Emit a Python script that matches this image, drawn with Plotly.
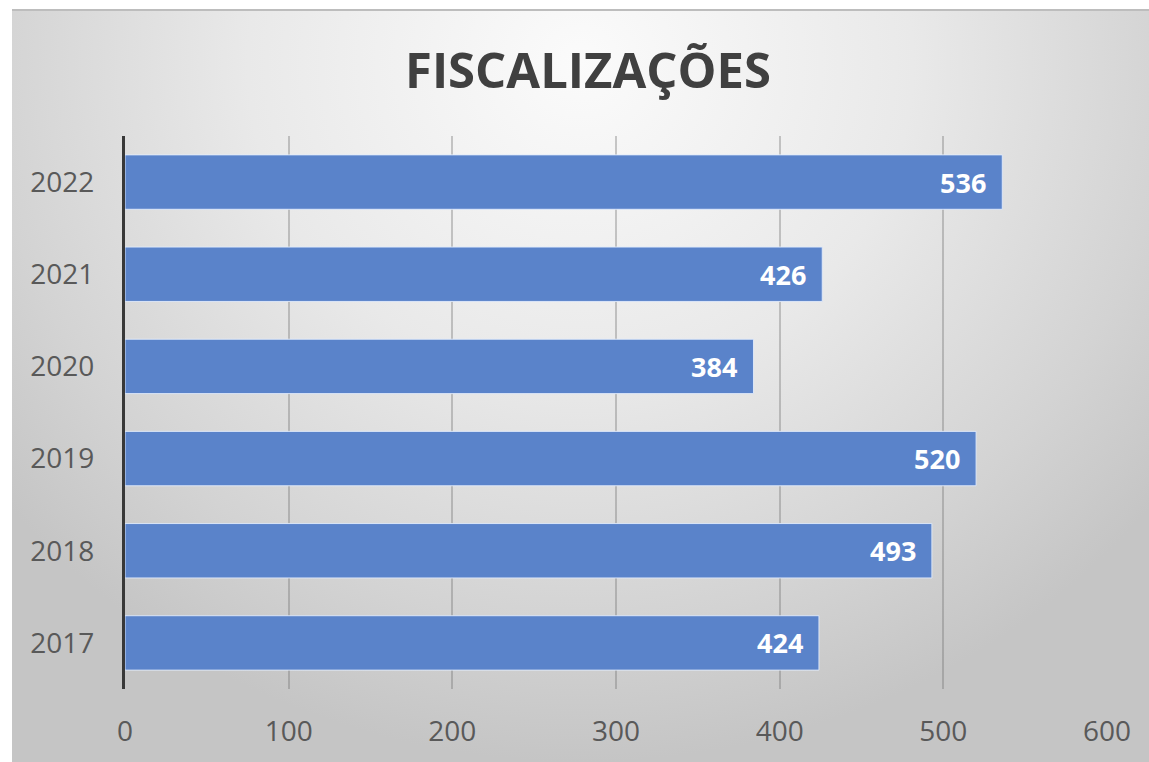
import plotly.graph_objects as go

# ---- data ----
years = ["2017", "2018", "2019", "2020", "2021", "2022"]
fiscalizacoes = [424, 493, 520, 384, 426, 536]
x_ticks = [0, 100, 200, 300, 400, 500, 600]
title_text = "FISCALIZAÇÕES"

W, H = 1149, 762
FONT = "Open Sans"

fig = go.Figure()

# background radial gradient (decorative) on its own hidden subplot
fig.add_trace(go.Scatter(
    x=[-0.15, 1.15, 1.15, -0.15, -0.15], y=[0, 0, 1.86, 1.86, 0],
    fill="toself", mode="lines", line=dict(width=0),
    fillgradient=dict(type="radial",
                      colorscale=[[0, "#fbfbfb"], [0.45, "#e9e9e9"],
                                  [0.8, "#d3d3d3"], [1, "#c5c5c5"]]),
    hoverinfo="skip", showlegend=False, xaxis="x", yaxis="y"))

fig.add_trace(go.Bar(
    x=fiscalizacoes, y=years, orientation="h", width=0.59,
    marker=dict(color="#5a83ca", line=dict(color="rgba(225,235,252,0.9)", width=1)),
    hoverinfo="x+y", showlegend=False, xaxis="x2", yaxis="y2"))

annotations = []
for v, yr in zip(fiscalizacoes, years):
    annotations.append(dict(
        x=v, y=years.index(yr), xref="x2", yref="y2", xanchor="right", yanchor="middle",
        xshift=-14, text=str(v), showarrow=False,
        font=dict(family=FONT, size=27, color="white", weight="bold")))

annotations.append(dict(
    x=588 / W, y=1 - 69 / H, xref="paper", yref="paper",
    xanchor="center", yanchor="middle", text=title_text, showarrow=False,
    font=dict(family=FONT, size=49, color="#404040", weight="bold")))

fig.update_layout(
    width=W, height=H, autosize=False,
    margin=dict(l=0, r=0, t=0, b=0, pad=0, autoexpand=False),
    paper_bgcolor="white", plot_bgcolor="rgba(0,0,0,0)",
    xaxis=dict(domain=[12 / W, 1], range=[0, 1], visible=False, fixedrange=True,
               automargin=False),
    yaxis=dict(domain=[0, 752 / H], range=[0, 1], visible=False, fixedrange=True,
               automargin=False),
    xaxis2=dict(domain=[125 / W, 1107 / W], range=[0, 600], anchor="y2",
                tickvals=x_ticks, showgrid=True, gridcolor="rgba(110,110,110,0.36)",
                gridwidth=1.5, zeroline=False, showline=False, automargin=False,
                ticks="", ticklabelstandoff=23,
                tickfont=dict(family=FONT, size=28, color="#595959")),
    yaxis2=dict(domain=[73 / H, 626 / H], anchor="x2", type="category",
                categoryorder="array", categoryarray=years,
                range=[-0.5, len(years) - 0.5], autorange=False, automargin=False,
                showline=True, linecolor="#383838", linewidth=3,
                showgrid=False, ticks="", ticklabelstandoff=22,
                tickfont=dict(family=FONT, size=28, color="#595959")),
    annotations=annotations,
    shapes=[dict(type="line", xref="paper", yref="paper",
                 x0=12 / W, x1=1, y0=1 - 10 / H, y1=1 - 10 / H,
                 line=dict(color="#bdbdbd", width=2))],
)

fig.write_html("out.html", config={"displayModeBar": False},
               post_script="document.body.style.margin='0';document.body.style.overflow='hidden';")
